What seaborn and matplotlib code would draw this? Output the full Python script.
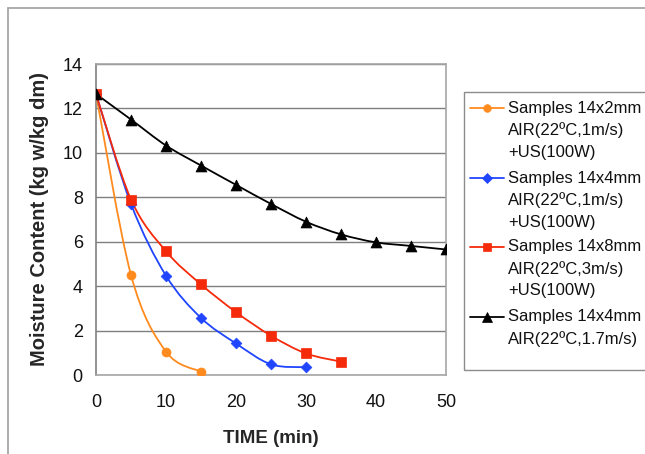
import numpy as np
import pandas as pd
import matplotlib
matplotlib.use("Agg")
from matplotlib import pyplot as plt
from matplotlib.path import Path
from matplotlib.patches import PathPatch, Rectangle
from matplotlib.lines import Line2D
import seaborn as sns

# data
time_2mm = [0, 5, 10, 15]
mc_2mm = [12.65, 4.5, 1.05, 0.15]

time_4mm_us = [0, 5, 10, 15, 20, 25, 30]
mc_4mm_us = [12.65, 7.7, 4.47, 2.57, 1.42, 0.48, 0.35]

time_8mm_us = [0, 5, 10, 15, 20, 25, 30, 35]
mc_8mm_us = [12.65, 7.9, 5.57, 4.08, 2.83, 1.77, 0.97, 0.6]

time_4mm_air = [0, 5, 10, 15, 20, 25, 30, 35, 40, 45, 50]
mc_4mm_air = [12.65, 11.5, 10.33, 9.43, 8.56, 7.7, 6.9, 6.33, 5.97, 5.81, 5.65]

legend_labels = [
    ["Samples 14x2mm", "AIR(22ºC,1m/s)", "+US(100W)"],
    ["Samples 14x4mm", "AIR(22ºC,1m/s)", "+US(100W)"],
    ["Samples 14x8mm", "AIR(22ºC,3m/s)", "+US(100W)"],
    ["Samples 14x4mm", "AIR(22ºC,1.7m/s)"],
]
y_ticks = [0, 2, 4, 6, 8, 10, 12, 14]
x_ticks = [0, 10, 20, 30, 40, 50]

series = [
    (time_2mm, mc_2mm, "#FF8A1E", "o", 42),
    (time_4mm_us, mc_4mm_us, "#1F45FF", "D", 30),
    (time_8mm_us, mc_8mm_us, "#F52A0A", "s", 50),
    (time_4mm_air, mc_4mm_air, "#000000", "^", 62),
]

sns.set_style("white")
plt.rcParams["font.family"] = ["Liberation Sans", "DejaVu Sans"]

W, H = 645, 454
fig = plt.figure(figsize=(W / 100, H / 100), dpi=100)
ax = fig.add_axes([96 / W, 1 - 375 / H, (446 - 96) / W, (375 - 64) / H])


def smooth_path(xs, ys):
    # Excel-style smoothed line: cubic Bezier segments through the points
    pts = np.column_stack([xs, ys]).astype(float)
    n = len(pts)
    verts = [pts[0]]
    codes = [Path.MOVETO]
    for i in range(n - 1):
        p0 = pts[max(i - 1, 0)]
        p1 = pts[i]
        p2 = pts[i + 1]
        p3 = pts[min(i + 2, n - 1)]
        c1 = p1 + (p2 - p0) / 6
        c2 = p2 - (p3 - p1) / 6
        verts += [c1, c2, p2]
        codes += [Path.CURVE4] * 3
    return Path(verts, codes)


for xs, ys, color, marker, size in series:
    ax.add_patch(PathPatch(smooth_path(xs, ys), facecolor="none",
                           edgecolor=color, lw=1.3, zorder=3))
    sns.scatterplot(x=xs, y=ys, ax=ax, color=color, marker=marker, s=size,
                    edgecolor=color, linewidth=0.5, zorder=4, legend=False)

ax.set_xlim(0, 50)
ax.set_ylim(0, 14)
ax.set_xticks(x_ticks)
ax.set_yticks(y_ticks)
ax.yaxis.grid(True, color="#7f7f7f", lw=1)
ax.xaxis.grid(False)
ax.set_axisbelow(True)
for side in ["top", "right", "bottom"]:
    ax.spines[side].set_color("#a6a6a6")
    ax.spines[side].set_linewidth(1.2)
ax.spines["left"].set_color("#7f7f7f")
ax.spines["left"].set_linewidth(1.2)
ax.tick_params(axis="both", direction="out", length=4.5, width=1,
               color="#7f7f7f", labelsize=13, labelcolor="#111111")
ax.tick_params(axis="x", pad=9)
ax.tick_params(axis="y", pad=5)

ax.set_xlabel("TIME (min)", fontsize=13.5, fontweight="bold", labelpad=14)
ax.set_ylabel("Moisture Content (kg w/kg dm)", fontsize=14.5,
              fontweight="bold", labelpad=10)

# outer frame of the picture
fig.add_artist(Line2D([8 / W, 1], [1 - 8 / H, 1 - 8 / H],
                      transform=fig.transFigure, color="#a0a0a0", lw=1.2))
fig.add_artist(Line2D([8 / W, 8 / W], [0, 1 - 8 / H],
                      transform=fig.transFigure, color="#a0a0a0", lw=1.2))

# legend box, drawn by hand so the markers sit on the first text line
fig.add_artist(Rectangle((464 / W, 1 - 370 / H), (700 - 464) / W,
                         (370 - 92) / H, transform=fig.transFigure,
                         facecolor="white", edgecolor="#8c8c8c", lw=1))
entry_tops = [108, 178, 247, 317]
line_step = 22
for (xs, ys, color, marker, size), lines, y0 in zip(series, legend_labels,
                                                    entry_tops):
    yf = 1 - y0 / H
    fig.add_artist(Line2D([470 / W, 504 / W], [yf, yf],
                          transform=fig.transFigure, color=color, lw=1.3))
    fig.add_artist(Line2D([487 / W], [yf], transform=fig.transFigure,
                          color=color, marker=marker, ms=np.sqrt(size) * 0.85,
                          markeredgewidth=0.5, linestyle="none"))
    for k, txt in enumerate(lines):
        fig.text(508 / W, 1 - (y0 + k * line_step) / H, txt, fontsize=12,
                 va="center", ha="left", color="#111111")

fig.savefig("out.png", dpi=100)
